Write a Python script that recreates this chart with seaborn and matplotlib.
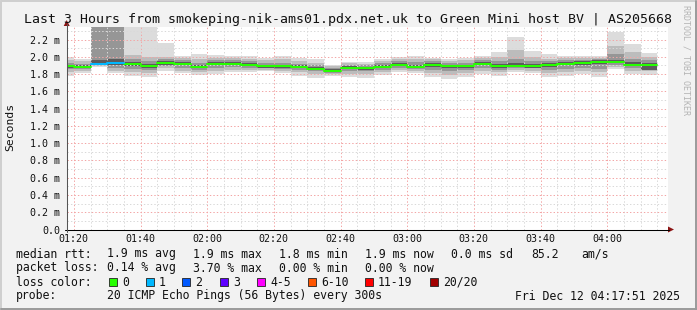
import numpy as np
import pandas as pd
import matplotlib
matplotlib.use("Agg")
import matplotlib.pyplot as plt
from matplotlib.patches import Rectangle, Polygon
from matplotlib.lines import Line2D
import seaborn as sns

# ---------------- data ----------------
bar_start = ["01:15", "01:20", "01:25", "01:30", "01:35", "01:40", "01:45", "01:50", "01:55",
             "02:00", "02:05", "02:10", "02:15", "02:20", "02:25", "02:30", "02:35", "02:40",
             "02:45", "02:50", "02:55", "03:00", "03:05", "03:10", "03:15", "03:20", "03:25",
             "03:30", "03:35", "03:40", "03:45", "03:50", "03:55", "04:00", "04:05", "04:10"]
median_ms = [1.892, 1.884, 1.915, 1.930, 1.912, 1.892, 1.930, 1.920, 1.884, 1.920, 1.920, 1.907,
             1.888, 1.888, 1.880, 1.861, 1.835, 1.870, 1.866, 1.884, 1.907, 1.884, 1.904, 1.892,
             1.892, 1.920, 1.892, 1.892, 1.892, 1.907, 1.920, 1.930, 1.940, 1.943, 1.907, 1.907]
loss_count = [0, 0, 1, 1, 0, 0, 0, 0, 0, 0, 0, 0, 0, 0, 0, 0, 0, 0,
              0, 0, 0, 0, 0, 0, 0, 0, 0, 0, 0, 0, 0, 0, 0, 0, 0, 0]
min_ms = [1.78, 1.81, 1.885, 1.815, 1.78, 1.77, 1.84, 1.81, 1.79, 1.80, 1.82, 1.82,
          1.83, 1.81, 1.78, 1.76, 1.78, 1.77, 1.76, 1.79, 1.82, 1.81, 1.77, 1.745,
          1.77, 1.80, 1.78, 1.82, 1.81, 1.77, 1.78, 1.80, 1.77, 1.86, 1.80, 1.79]
p10_ms = [1.82, 1.83, 1.89, 1.84, 1.82, 1.81, 1.87, 1.84, 1.82, 1.84, 1.85, 1.85,
          1.85, 1.84, 1.82, 1.80, 1.80, 1.80, 1.80, 1.82, 1.85, 1.84, 1.81, 1.79,
          1.81, 1.84, 1.82, 1.85, 1.84, 1.81, 1.82, 1.84, 1.82, 1.88, 1.84, 1.83]
p25_ms = [1.86, 1.86, 1.90, 1.87, 1.86, 1.85, 1.89, 1.87, 1.85, 1.87, 1.88, 1.875,
          1.865, 1.86, 1.85, 1.83, 1.815, 1.83, 1.83, 1.85, 1.875, 1.86, 1.85, 1.83,
          1.845, 1.87, 1.85, 1.87, 1.865, 1.85, 1.86, 1.87, 1.86, 1.90, 1.87, 1.86]
p40_ms = [1.875, 1.87, 1.905, 1.91, 1.89, 1.875, 1.91, 1.90, 1.865, 1.90, 1.90, 1.89,
          1.87, 1.87, 1.865, 1.845, 1.82, 1.855, 1.85, 1.865, 1.89, 1.87, 1.885, 1.875,
          1.875, 1.90, 1.875, 1.88, 1.875, 1.885, 1.90, 1.91, 1.915, 1.925, 1.89, 1.85]
p60_ms = [1.905, 1.90, 1.96, 1.97, 1.935, 1.915, 1.95, 1.94, 1.905, 1.94, 1.94, 1.925,
          1.905, 1.905, 1.90, 1.88, 1.855, 1.89, 1.885, 1.905, 1.925, 1.905, 1.925, 1.91,
          1.91, 1.94, 1.915, 1.925, 1.915, 1.93, 1.94, 1.95, 1.96, 1.965, 1.935, 1.925]
p75_ms = [1.93, 1.92, 2.60, 2.60, 1.97, 1.95, 1.97, 1.96, 1.93, 1.96, 1.96, 1.95,
          1.93, 1.93, 1.92, 1.90, 1.87, 1.905, 1.90, 1.93, 1.95, 1.94, 1.95, 1.93,
          1.93, 1.96, 1.95, 1.98, 1.95, 1.95, 1.96, 1.965, 1.97, 2.03, 1.98, 1.96]
p90_ms = [1.96, 1.95, 2.60, 2.60, 2.02, 2.00, 2.00, 1.985, 1.97, 1.99, 1.985, 1.98,
          1.96, 1.97, 1.95, 1.93, 1.89, 1.925, 1.92, 1.955, 1.975, 1.98, 1.97, 1.955,
          1.96, 1.985, 2.00, 2.08, 2.00, 1.98, 1.985, 1.985, 1.99, 2.13, 2.06, 2.00]
max_ms = [2.00, 1.977, 2.60, 2.60, 2.60, 2.60, 2.16, 2.01, 2.03, 2.015, 2.01, 2.01,
          1.985, 2.005, 1.99, 1.973, 1.91, 1.945, 1.94, 1.98, 2.00, 2.01, 1.985, 1.98,
          1.99, 2.01, 2.055, 2.225, 2.07, 2.03, 2.005, 2.005, 2.005, 2.29, 2.147, 2.047]

x_tick_labels = ["01:20", "01:40", "02:00", "02:20", "02:40", "03:00", "03:20", "03:40", "04:00"]
y_tick_values = [0.0, 0.2, 0.4, 0.6, 0.8, 1.0, 1.2, 1.4, 1.6, 1.8, 2.0, 2.2]
y_tick_labels = ["0.0", "0.2 m", "0.4 m", "0.6 m", "0.8 m", "1.0 m", "1.2 m", "1.4 m",
                 "1.6 m", "1.8 m", "2.0 m", "2.2 m"]

loss_names = ["0", "1", "2", "3", "4-5", "6-10", "11-19", "20/20"]
loss_colors = ["#26ff00", "#00b8ff", "#0059ff", "#5e00ff", "#ff00ff", "#ff5500", "#ff0000", "#a10000"]

title = "Last 3 Hours from smokeping-nik-ams01.pdx.net.uk to Green Mini host BV | AS205668"
stats_rtt = ["median rtt:", "1.9 ms avg", "1.9 ms max", "1.8 ms min", "1.9 ms now", "0.0 ms sd", "85.2", "am/s"]
stats_loss = ["packet loss:", "0.14 % avg", "3.70 % max", "0.00 % min", "0.00 % now"]
probe_text = ["probe:", "20 ICMP Echo Pings (56 Bytes) every 300s"]
date_text = "Fri Dec 12 04:17:51 2025"

# ---------------- setup ----------------
W, H = 697, 310
sns.set_style("white")
plt.rcParams["font.family"] = ["DejaVu Sans Mono"]
plt.rcParams["lines.scale_dashes"] = False

def to_min(s):
    h, m = s.split(":")
    return int(h) * 60 + int(m)

def fx(x):
    return x / W

def fy(y):
    return 1 - y / H

starts = np.array([to_min(s) for s in bar_start], dtype=float)
step = 5.0
t0 = 77 + 51 / 60.0           # 01:17:51
px_per_min = 10.0 / 3.0
ax_left, ax_right, ax_top, ax_bot = 66.7, 668.0, 27.0, 229.5
t1 = t0 + (ax_right - ax_left) / px_per_min
ms_per_px = 2.2 / 190.0
ytop = (ax_bot - ax_top) * ms_per_px

fig = plt.figure(figsize=(W / 100, H / 100), dpi=100, facecolor="#f2f2f2")
ax = fig.add_axes([fx(ax_left), fy(ax_bot), (ax_right - ax_left) / W, (ax_bot - ax_top) / H])
ax.set_facecolor("white")
ax.set_xlim(t0, t1)
ax.set_ylim(0, ytop)

# smoke layers
layers = [(min_ms, max_ms, "#dcdcdc"), (p10_ms, p90_ms, "#bcbcbc"),
          (p25_ms, p75_ms, "#969696"), (p40_ms, p60_ms, "#5c5c5c")]
for lo, hi, col in layers:
    lo = np.array(lo); hi = np.array(hi)
    ax.bar(starts, hi - lo, bottom=lo, width=step, align="edge", color=col,
           linewidth=0, zorder=1)

# grid
minor_dot = (0, (1.0, 1.5))
major_dot = (0, (1.0, 1.5))
for t in np.arange(80, t1, 5):
    major = (t % 20) == 0
    ax.axvline(t, color="#f3a6a6" if major else "#d9d9d9", lw=0.72,
               ls=major_dot if major else minor_dot, zorder=2)
for v in np.arange(0.1, ytop, 0.1):
    major = round(v * 10) % 2 == 0
    ax.axhline(v, color="#f3a6a6" if major else "#d9d9d9", lw=0.72,
               ls=major_dot if major else minor_dot, zorder=2)

# median line, coloured by loss
rows = []
for i, (s, m, l) in enumerate(zip(starts, median_ms, loss_count)):
    rows.append((s, m, i, loss_names[l]))
    rows.append((s + step, m, i, loss_names[l]))
med_df = pd.DataFrame(rows, columns=["t", "ms", "bar", "loss"])
sns.lineplot(data=med_df, x="t", y="ms", hue="loss", units="bar", estimator=None,
             palette=dict(zip(loss_names, loss_colors)), linewidth=1.45, legend=False,
             ax=ax, zorder=3)

# ticks
ax.set_xticks([to_min(s) for s in x_tick_labels])
ax.set_xticklabels(x_tick_labels)
ax.set_yticks(y_tick_values)
ax.set_yticklabels(y_tick_labels)
ax.tick_params(axis="x", length=0, pad=3.5, labelsize=7.2, colors="#111111")
ax.tick_params(axis="y", length=0, pad=4.6, labelsize=7.2, colors="#111111")
ax.set_xlabel("")
ax.set_ylabel("")
for sp in ax.spines.values():
    sp.set_visible(False)

# axes lines and arrows
fig.add_artist(Line2D([fx(ax_left - 2), fx(669)], [fy(ax_bot), fy(ax_bot)], color="black", lw=0.75))
fig.add_artist(Line2D([fx(ax_left), fx(ax_left)], [fy(ax_bot + 2), fy(24)], color="#555555", lw=0.75))
fig.add_artist(Polygon([[fx(668), fy(ax_bot - 3)], [fx(668), fy(ax_bot + 3)], [fx(674), fy(ax_bot)]],
                       closed=True, color="#8b1414", lw=0))
fig.add_artist(Polygon([[fx(ax_left - 3), fy(26)], [fx(ax_left + 3), fy(26)], [fx(ax_left), fy(20)]],
                       closed=True, color="#8b1414", lw=0))

# frame
fig.add_artist(Line2D([fx(0.5), fx(696.5)], [fy(0.8), fy(0.8)], color="#cfcfcf", lw=1.4))
fig.add_artist(Line2D([fx(0.8), fx(0.8)], [fy(0.5), fy(309.5)], color="#cfcfcf", lw=1.4))
fig.add_artist(Line2D([fx(0.5), fx(696.5)], [fy(309.2), fy(309.2)], color="#9a9a9a", lw=1.4))
fig.add_artist(Line2D([fx(696.2), fx(696.2)], [fy(0.5), fy(309.5)], color="#9a9a9a", lw=1.4))

# texts
fig.text(fx(348), fy(19.5), title, ha="center", va="center", fontsize=9.5, color="#111111")
fig.text(fx(10), fy(127), "Seconds", rotation=90, ha="center", va="center", fontsize=8.2,
         color="#111111")
fig.text(fx(686), fy(60), "RRDTOOL / TOBI OETIKER", rotation=270, ha="center", va="center",
         fontsize=6, color="#b4b4b4")

fs = 8.3
for txt, x in zip(stats_rtt, [16, 107, 193, 279, 365, 451, 531, 581]):
    fig.text(fx(x), fy(254), txt, ha="left", va="center", fontsize=fs, color="#111111")
for txt, x in zip(stats_loss, [16, 107, 193, 279, 365]):
    fig.text(fx(x), fy(268), txt, ha="left", va="center", fontsize=fs, color="#111111")
fig.text(fx(16), fy(282), "loss color:", ha="left", va="center", fontsize=fs, color="#111111")
for name, col, x in zip(loss_names, loss_colors, [109, 146, 182, 220, 257, 308, 365, 430]):
    fig.add_artist(Rectangle((fx(x), fy(286)), 8 / W, 8 / H, facecolor=col,
                             edgecolor="#222222", lw=0.6, transform=fig.transFigure))
    fig.text(fx(x + 13), fy(282), name, ha="left", va="center", fontsize=fs, color="#111111")
fig.text(fx(16), fy(296), probe_text[0], ha="left", va="center", fontsize=fs, color="#111111")
fig.text(fx(107), fy(296), probe_text[1], ha="left", va="center", fontsize=fs, color="#111111")
fig.text(fx(680), fy(296), date_text, ha="right", va="center", fontsize=fs, color="#111111")

fig.savefig("out.png", dpi=100, facecolor=fig.get_facecolor())
